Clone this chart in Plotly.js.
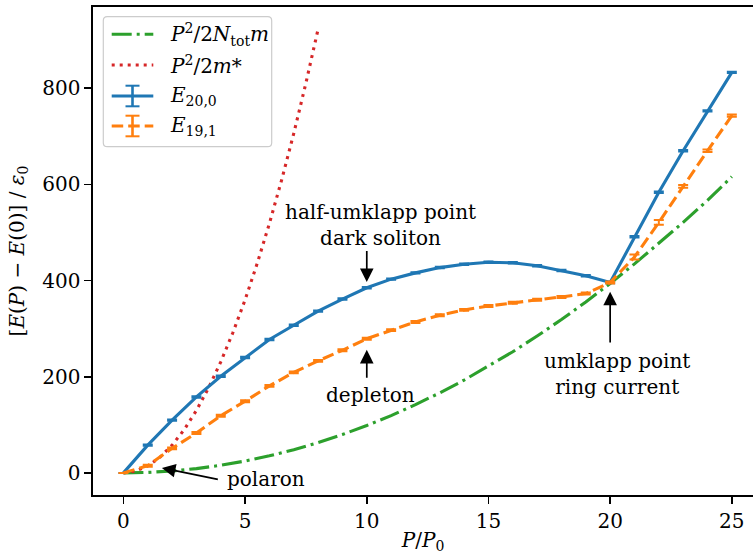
<!DOCTYPE html>
<html><head><meta charset="utf-8">
<script src="https://cdn.plot.ly/plotly-3.0.1.min.js"></script>
<style>html,body{margin:0;padding:0;background:#fff}</style>
</head><body><div id="chart" style="width:753px;height:554px"></div>
<script>
// ---- data ----
const P = [0,1,2,3,4,5,6,7,8,9,10,11,12,13,14,15,16,17,18,19,20,21,22,23,24,25];
const E20 = [0,57.7,109.7,158,201,240,277.6,307,336.5,361.5,385,403,416,427,434,438,437,431,421,410,396,491,583.5,670,753,833];
const E20err = [0,1.5,1.5,1.5,1.5,1.5,1.5,1.5,1.5,1.5,1.5,1.5,1.5,1.5,1.5,1.5,1.5,1.5,1.5,1.5,1.5,1.5,1.5,1.5,1.5,1.5];
const E19 = [0,15,51,83,119,149,181,209,233,255,279,297,314,328,339,347,354,360,366,373,396,449,521,596,670,743];
const E19err = [0,2,2,2,2,2,2,2,2,2,2,2,2,2,2,2,2,2,2,2,2,5,5,3,2.5,2.5];
const Pgreen = [0,1,2,3,4,5,6,7,8,9,10,11,12,13,14,15,16,17,18,19,20,21,22,23,24,25];
const Egreen = [0,1,3.9,8.9,15.8,24.6,35.5,48.3,63,79.8,98.5,119,142,166.5,193,221.6,252,284.7,319,355.6,394,434.6,477,521,567,616];
const Pred = [0,0.5,1,1.5,2,2.5,3,3.5,4,4.5,5,5.5,6,6.5,7,7.5,8];
const Ered = [0,3.6,14.4,32.4,57.7,90,130,177,231,292,360,436,519,609,706,811,923];
const xTicks = [0,5,10,15,20,25];
const yTicks = [0,200,400,600,800];
const legendLabels = [
  '<i>P</i><sup>2</sup>/2<i>N</i><sub>tot</sub><i>m</i>',
  '<i>P</i><sup>2</sup>/2<i>m</i>*',
  '<i>E</i><sub>20,0</sub>',
  '<i>E</i><sub>19,1</sub>'
];

const C = {blue:'#1f77b4', orange:'#ff7f0e', green:'#2ca02c', red:'#d62728'};
const FONT = 'DejaVu Serif';
const LW = 3.1;
const DASH = {green:'20px,5px,3px,5px', red:'3px,5px', orange:'11.5px,5px', blue:'solid'};

const traces = [
  {x:Pgreen, y:Egreen, mode:'lines', line:{color:C.green, width:LW, dash:DASH.green}, name:legendLabels[0]},
  {x:Pred, y:Ered, mode:'lines', line:{color:C.red, width:LW, dash:DASH.red}, name:legendLabels[1]},
  {x:P, y:E20, mode:'lines', line:{color:C.blue, width:LW}, name:legendLabels[2],
   error_y:{type:'data', array:E20err, visible:true, color:C.blue, thickness:2, width:5}},
  {x:P, y:E19, mode:'lines', line:{color:C.orange, width:LW, dash:DASH.orange}, name:legendLabels[3],
   error_y:{type:'data', array:E19err, visible:true, color:C.orange, thickness:2, width:5}}
];

// pixel -> paper helpers for the hand-made legend
const ML=93, MR=0, MT=7, MB=59, W=753, H=554;
const PW=W-ML-MR, PH=H-MT-MB;
const X = px => (px-ML)/PW;
const Y = py => (H-MB-py)/PH;

const shapes = [];
(function(){
  const x0=X(103.3), x1=X(271.7), y0=Y(146.7), y1=Y(16.7);
  const rx=4/PW, ry=4/PH;
  const p = `M${x0+rx},${y0} L${x1-rx},${y0} Q${x1},${y0} ${x1},${y0+ry} L${x1},${y1-ry} Q${x1},${y1} ${x1-rx},${y1} L${x0+rx},${y1} Q${x0},${y1} ${x0},${y1-ry} L${x0},${y0+ry} Q${x0},${y0} ${x0+rx},${y0} Z`;
  shapes.push({type:'path', xref:'paper', yref:'paper', path:p, fillcolor:'rgba(255,255,255,0.8)', line:{color:'#cccccc', width:1.2}});
})();
const rows = [34.3, 65, 96, 126];
const rowStyle = [
  {color:C.green, dash:DASH.green, err:false},
  {color:C.red, dash:DASH.red, err:false},
  {color:C.blue, dash:'solid', err:true},
  {color:C.orange, dash:DASH.orange, err:true}
];
rows.forEach((ry,i)=>{
  const s=rowStyle[i];
  shapes.push({type:'line', xref:'paper', yref:'paper', x0:X(111.7), x1:X(153.3), y0:Y(ry), y1:Y(ry), line:{color:s.color, width:LW, dash:s.dash}});
  if(s.err){
    shapes.push({type:'line', xref:'paper', yref:'paper', x0:X(132.5), x1:X(132.5), y0:Y(ry-10.3), y1:Y(ry+10.3), line:{color:s.color, width:2.6}});
    shapes.push({type:'line', xref:'paper', yref:'paper', x0:X(125.5), x1:X(139.5), y0:Y(ry-10.3), y1:Y(ry-10.3), line:{color:s.color, width:2}});
    shapes.push({type:'line', xref:'paper', yref:'paper', x0:X(125.5), x1:X(139.5), y0:Y(ry+10.3), y1:Y(ry+10.3), line:{color:s.color, width:2}});
  }
});

const txtFont = {family:FONT, size:20, color:'black'};
const annotations = [];
rows.forEach((ry,i)=>{
  annotations.push({xref:'paper', yref:'paper', x:X(168), y:Y(ry), xanchor:'left', yanchor:'middle', text:legendLabels[i], showarrow:false, font:txtFont});
});
function label(text,x,y){annotations.push({x:x,y:y,xref:'x',yref:'y',text:text,showarrow:false,xanchor:'center',yanchor:'middle',font:txtFont});}
function arrow(x,y,ax,ay){annotations.push({x:x,y:y,ax:ax,ay:ay,xref:'x',yref:'y',axref:'x',ayref:'y',text:' ',borderpad:0,showarrow:true,arrowhead:2,arrowsize:1.6,arrowwidth:1.7,arrowcolor:'black',standoff:0,startstandoff:0,font:{size:1}});}
label('half-umklapp point<br>dark soliton', 10.55, 516);
arrow(10, 397, 10, 463.5);
label('depleton', 10.17, 161.7);
arrow(10, 256, 10, 196);
label('umklapp point<br>ring current', 20.27, 205);
arrow(20, 376.7, 20, 269);
label('polaron', 5.85, -11.7);
arrow(1.58, 10.4, 3.9, -13.7);

const axisCommon = {ticks:'outside', ticklen:7, tickwidth:1.6, tickcolor:'black', showline:true, linewidth:1.6, linecolor:'black', showgrid:false, zeroline:false, tickfont:{family:FONT, size:20, color:'black'}};

const layout = {
  width:W, height:H,
  margin:{l:ML, r:MR, t:MT, b:MB, pad:0},
  paper_bgcolor:'white', plot_bgcolor:'white',
  showlegend:false,
  font:{family:FONT, size:20, color:'black'},
  xaxis:Object.assign({}, axisCommon, {range:[-1.25,25.87], tickvals:xTicks, ticktext:xTicks.map(String), mirror:true,
    title:{text:'<i>P</i>/<i>P</i><sub>0</sub>', font:{family:FONT, size:20}, standoff:6}}),
  yaxis:Object.assign({}, axisCommon, {range:[-46,969], tickvals:yTicks, ticktext:yTicks.map(String), mirror:false,
    title:{text:'[<i>E</i>(<i>P</i>) − <i>E</i>(0)] / <i>ε</i><sub>0</sub>', font:{family:FONT, size:20}, standoff:12}}),
  shapes:shapes,
  annotations:annotations
};

Plotly.newPlot('chart', traces, layout, {displayModeBar:false, staticPlot:true});
</script>
</body></html>
